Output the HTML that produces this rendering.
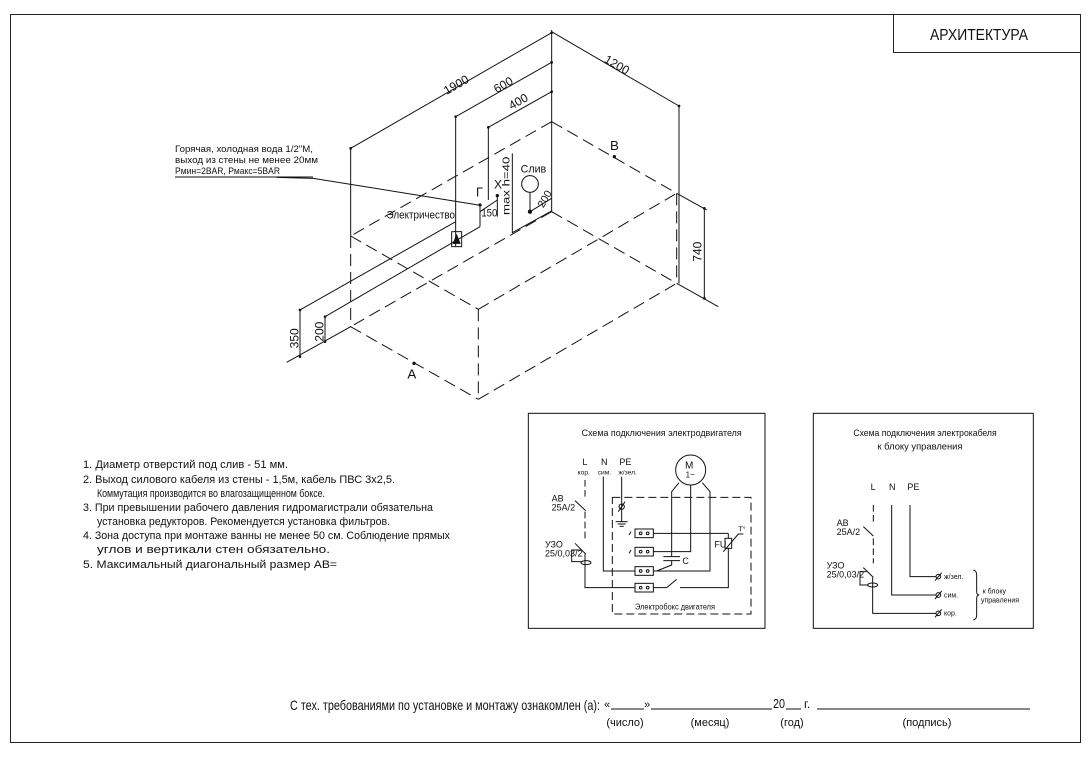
<!DOCTYPE html>
<html><head><meta charset="utf-8"><style>
html,body{margin:0;padding:0;background:#fff;}
svg{display:block;}
text{font-family:"Liberation Sans",sans-serif;fill:#111;}
</style></head><body>
<svg width="1092" height="758" viewBox="0 0 1092 758" xmlns="http://www.w3.org/2000/svg">
<rect x="0" y="0" width="1092" height="758" fill="#fff"/>
<!-- frame -->
<rect x="10.5" y="14.5" width="1070" height="728" fill="none" stroke="#222" stroke-width="1"/>
<rect x="893.5" y="14.5" width="187" height="38" fill="none" stroke="#222" stroke-width="1"/>
<text x="979" y="40" font-size="16" text-anchor="middle" textLength="98" lengthAdjust="spacingAndGlyphs">АРХИТЕКТУРА</text>

<!-- main drawing in zoom coords -->
<g transform="translate(280,30) scale(0.33333)" stroke="#111" stroke-width="3" fill="none">
  <!-- dashed bath -->
  <g stroke-dasharray="36 18">
    <line x1="815" y1="275" x2="212" y2="618"/>
    <line x1="815" y1="275" x2="1190" y2="490"/>
    <line x1="212" y1="618" x2="595" y2="838"/>
    <line x1="595" y1="838" x2="1190" y2="490"/>
    <line x1="595" y1="838" x2="595" y2="1108"/>
    <line x1="212" y1="890" x2="595" y2="1108"/>
    <line x1="595" y1="1108" x2="1190" y2="760"/>
    <line x1="815" y1="545" x2="1190" y2="760"/>
    <line x1="815" y1="545" x2="212" y2="890"/>
    <line x1="212" y1="618" x2="212" y2="890"/>
    <line x1="1190" y1="490" x2="1190" y2="760"/>
  </g>
  <!-- solid extension / dims -->
  <line x1="815" y1="0" x2="815" y2="545"/>
  <line x1="815" y1="5" x2="1197" y2="228"/>
  <line x1="1197" y1="228" x2="1197" y2="760"/>
  <line x1="212" y1="355" x2="212" y2="618"/>
  <line x1="212" y1="355" x2="815" y2="8"/>
  <line x1="527" y1="260" x2="815" y2="97"/>
  <line x1="527" y1="260" x2="527" y2="650"/>
  <line x1="625" y1="292" x2="815" y2="185"/>
  <line x1="625" y1="292" x2="625" y2="510"/>
  <line x1="1273" y1="535" x2="1273" y2="805"/>
  <line x1="1190" y1="490" x2="1280" y2="540"/>
  <line x1="1190" y1="760" x2="1315" y2="830"/>
  <!-- left 350/200 -->
  <line x1="20" y1="997" x2="212" y2="890"/>
  <line x1="60" y1="840" x2="527" y2="575"/>
  <line x1="135" y1="860" x2="600" y2="590"/>
  <line x1="60" y1="840" x2="60" y2="980"/>
  <line x1="135" y1="860" x2="135" y2="935"/>
  <line x1="600" y1="530" x2="600" y2="590"/>
  <line x1="600" y1="545" x2="652" y2="510"/>
  <line x1="652" y1="495" x2="652" y2="560"/>
  <!-- max h line -->
  <line x1="697" y1="370" x2="697" y2="610"/>
  <line x1="697" y1="608" x2="815" y2="543"/>
  <!-- drain -->
  <circle cx="750" cy="462" r="25"/>
  <line x1="750" y1="487" x2="750" y2="545"/>
  <circle cx="750" cy="545" r="5" fill="#111"/>
  <line x1="750" y1="545" x2="815" y2="505"/>
  <!-- leader -->
  <polyline points="-10,442 100,445 595,525"/>
  <line x1="-10" y1="442" x2="-10" y2="442"/>
  <!-- electric box -->
  <rect x="515" y="605" width="30" height="45"/>
  <polygon points="520,640 540,640 530,615" fill="#111"/>
  <!-- dots -->
  <g fill="#111" stroke="none">
    <circle cx="815" cy="8" r="4"/><circle cx="815" cy="97" r="4"/><circle cx="815" cy="185" r="4"/>
    <circle cx="212" cy="355" r="4"/><circle cx="527" cy="260" r="4"/><circle cx="625" cy="292" r="4"/>
    <circle cx="1197" cy="228" r="4"/><circle cx="1273" cy="535" r="4"/><circle cx="1273" cy="805" r="4"/>
    <circle cx="60" cy="840" r="4"/><circle cx="60" cy="980" r="4"/><circle cx="135" cy="860" r="4"/><circle cx="135" cy="935" r="4"/>
    <circle cx="600" cy="525" r="5"/><circle cx="652" cy="497" r="5"/>
    <circle cx="1003" cy="380" r="5"/><circle cx="402" cy="1000" r="5"/>
  </g>
  <g fill="#111" stroke="none" font-size="36">
    <text x="500" y="195" transform="rotate(-30 500 195)">1900</text>
    <text x="650" y="190" transform="rotate(-30 650 190)">600</text>
    <text x="695" y="240" transform="rotate(-30 695 240)">400</text>
    <text x="970" y="95" transform="rotate(30 970 95)">1200</text>
    <text x="1265" y="695" transform="rotate(-90 1265 695)">740</text>
    <text x="55" y="955" transform="rotate(-90 55 955)">350</text>
    <text x="130" y="935" transform="rotate(-90 130 935)">200</text>
    <text x="990" y="360" font-size="40">В</text>
    <text x="382" y="1045" font-size="40">А</text>
    <text x="588" y="500" font-size="38">Г</text>
    <text x="642" y="475" font-size="36">Х</text>
    <text x="722" y="428" font-size="32">Слив</text>
    <text x="320" y="565" font-size="32" textLength="205" lengthAdjust="spacingAndGlyphs">Электричество</text>
    <text x="604" y="560" font-size="32" textLength="48" lengthAdjust="spacingAndGlyphs">150</text>
    <text x="688" y="555" font-size="30" transform="rotate(-90 688 555)" textLength="175" lengthAdjust="spacingAndGlyphs">max h=40</text>
    <text x="790" y="535" font-size="32" transform="rotate(-60 790 535)">200</text>
  </g>
</g>

<!-- leader text -->
<g font-size="9.5">
  <text x="175" y="152" textLength="138" lengthAdjust="spacingAndGlyphs">Горячая, холодная вода 1/2"М,</text>
  <text x="175" y="163" textLength="143" lengthAdjust="spacingAndGlyphs">выход из стены не менее 20мм</text>
  <text x="175" y="174" textLength="105" lengthAdjust="spacingAndGlyphs">Рмин=2BAR, Рмакс=5BAR</text>
</g>
<line x1="175" y1="177" x2="313" y2="177" stroke="#111" stroke-width="1"/>

<!-- schematic 1 -->
<g transform="translate(525,410) scale(0.33333)" stroke="#111" stroke-width="3" fill="none">
  <rect x="10" y="10" width="710" height="645"/>
  <rect x="262" y="262" width="416" height="350" stroke-dasharray="24 12"/>
  <circle cx="497" cy="180" r="45"/>
  <line x1="180" y1="210" x2="180" y2="265" stroke-dasharray="20 10"/>
  <line x1="150" y1="272" x2="182" y2="302"/>
  <line x1="180" y1="305" x2="180" y2="395" stroke-dasharray="20 10"/>
  <line x1="150" y1="400" x2="182" y2="432"/>
  <polyline points="168,420 140,420 140,455 170,455"/>
  <ellipse cx="183" cy="458" rx="15" ry="6"/>
  <polyline points="180,432 180,533 330,533"/>
  <polyline points="235,200 235,483 330,483"/>
  <line x1="290" y1="200" x2="290" y2="335"/>
  <line x1="272" y1="335" x2="308" y2="335"/><line x1="278" y1="342" x2="302" y2="342"/><line x1="284" y1="349" x2="296" y2="349"/>
  <circle cx="290" cy="290" r="8"/><line x1="280" y1="305" x2="300" y2="275"/>
  <rect x="330" y="357" width="55" height="26"/><rect x="330" y="412" width="55" height="26"/>
  <rect x="330" y="470" width="55" height="26"/><rect x="330" y="520" width="55" height="26"/>
  <g><circle cx="347" cy="370" r="4"/><circle cx="368" cy="370" r="4"/><circle cx="347" cy="425" r="4"/><circle cx="368" cy="425" r="4"/>
  <circle cx="347" cy="483" r="4"/><circle cx="368" cy="483" r="4"/><circle cx="347" cy="533" r="4"/><circle cx="368" cy="533" r="4"/></g>
  <line x1="312" y1="375" x2="318" y2="365"/><line x1="312" y1="430" x2="318" y2="420"/>
  <polyline points="462,218 440,245 440,440"/>
  <polyline points="532,218 555,245 555,483 385,483"/>
  <polyline points="497,225 497,425 385,425"/>
  <line x1="385" y1="370" x2="610" y2="370"/>
  <line x1="415" y1="440" x2="465" y2="440"/><line x1="415" y1="452" x2="465" y2="452"/>
  <polyline points="440,452 440,465 395,483"/>
  <polyline points="385,533 425,533 455,508"/>
  <polyline points="465,533 610,533 610,415"/>
  <line x1="610" y1="370" x2="610" y2="385"/>
  <rect x="600" y="385" width="20" height="30"/>
  <polyline points="595,425 640,372 655,372"/>
  <g fill="#111" stroke="none" font-size="27">
    <text x="410" y="78" text-anchor="middle" textLength="480" lengthAdjust="spacingAndGlyphs">Схема подключения электродвигателя</text>
    <text x="172" y="165">L</text><text x="228" y="165">N</text><text x="283" y="165">PE</text>
    <text x="158" y="193" font-size="20">кор.</text><text x="218" y="193" font-size="20">сим.</text><text x="280" y="193" font-size="20">ж/зел.</text>
    <text x="480" y="175" font-size="30">М</text><text x="482" y="203" font-size="24">1~</text>
    <text x="80" y="275">АВ</text><text x="80" y="302">25А/2</text>
    <text x="60" y="413">УЗО</text><text x="60" y="440">25/0,03/2</text>
    <text x="472" y="462">С</text><text x="568" y="412">FU</text><text x="640" y="365" font-size="22">T°</text>
    <text x="450" y="598" text-anchor="middle" font-size="24" textLength="240" lengthAdjust="spacingAndGlyphs">Электробокс двигателя</text>
  </g>
</g>

<!-- schematic 2 -->
<g transform="translate(810,410) scale(0.33333)" stroke="#111" stroke-width="3" fill="none">
  <rect x="10" y="10" width="660" height="645"/>
  <line x1="190" y1="285" x2="190" y2="340" stroke-dasharray="20 10"/>
  <line x1="160" y1="350" x2="190" y2="378"/>
  <line x1="190" y1="385" x2="190" y2="460" stroke-dasharray="20 10"/>
  <line x1="160" y1="473" x2="190" y2="502"/>
  <polyline points="170,485 150,485 150,525 175,525"/>
  <ellipse cx="188" cy="525" rx="15" ry="6"/>
  <polyline points="188,502 188,610 378,610"/>
  <polyline points="245,285 245,555 378,555"/>
  <polyline points="300,285 300,500 378,500"/>
  <circle cx="385" cy="500" r="7"/><circle cx="385" cy="555" r="7"/><circle cx="385" cy="610" r="7"/>
  <line x1="375" y1="512" x2="395" y2="488"/><line x1="375" y1="567" x2="395" y2="543"/><line x1="375" y1="622" x2="395" y2="598"/>
  <path d="M490,480 Q500,482 500,495 L500,545 Q500,555 508,555 Q500,555 500,565 L500,615 Q500,628 490,630"/>
  <g fill="#111" stroke="none" font-size="27">
    <text x="345" y="78" text-anchor="middle" textLength="430" lengthAdjust="spacingAndGlyphs">Схема подключения электрокабеля</text>
    <text x="330" y="118" text-anchor="middle" textLength="255" lengthAdjust="spacingAndGlyphs">к блоку управления</text>
    <text x="182" y="240">L</text><text x="237" y="240">N</text><text x="292" y="240">PE</text>
    <text x="80" y="348">АВ</text><text x="80" y="375">25А/2</text>
    <text x="50" y="475">УЗО</text><text x="50" y="502">25/0,03/2</text>
    <text x="402" y="507" font-size="21">ж/зел.</text><text x="402" y="562" font-size="21">сим.</text><text x="402" y="617" font-size="21">кор.</text>
    <text x="518" y="550" font-size="21">к блоку</text><text x="513" y="578" font-size="21">управления</text>
  </g>
</g>

<!-- notes -->
<g font-size="11">
  <text x="83" y="468" textLength="205" lengthAdjust="spacingAndGlyphs">1. Диаметр отверстий под слив - 51 мм.</text>
  <text x="83" y="483" textLength="312" lengthAdjust="spacingAndGlyphs">2. Выход силового кабеля из стены - 1,5м, кабель ПВС 3х2,5.</text>
  <text x="97" y="497" textLength="228" lengthAdjust="spacingAndGlyphs">Коммутация производится во влагозащищенном боксе.</text>
  <text x="83" y="511" textLength="350" lengthAdjust="spacingAndGlyphs">3. При превышении рабочего давления гидромагистрали обязательна</text>
  <text x="97" y="525" textLength="293" lengthAdjust="spacingAndGlyphs">установка редукторов. Рекомендуется установка фильтров.</text>
  <text x="83" y="539" textLength="367" lengthAdjust="spacingAndGlyphs">4. Зона доступа при монтаже ванны не менее 50 см. Соблюдение прямых</text>
  <text x="97" y="553" textLength="233" lengthAdjust="spacingAndGlyphs">углов и вертикали стен обязательно.</text>
  <text x="83" y="568" textLength="254" lengthAdjust="spacingAndGlyphs">5. Максимальный диагональный размер АВ=</text>
</g>

<!-- signature line -->
<text x="290" y="710" font-size="14" textLength="310" lengthAdjust="spacingAndGlyphs">С тех. требованиями по установке и монтажу ознакомлен (а):</text>
<text x="604" y="708" font-size="11">«</text>
<text x="644" y="708" font-size="11">»</text>
<line x1="611" y1="709" x2="644" y2="709" stroke="#111"/>
<line x1="651" y1="709" x2="772" y2="709" stroke="#111"/>
<text x="773" y="708" font-size="13" textLength="12" lengthAdjust="spacingAndGlyphs">20</text>
<line x1="786" y1="709" x2="801" y2="709" stroke="#111"/>
<text x="804" y="708" font-size="12">г.</text>
<line x1="817" y1="709" x2="1030" y2="709" stroke="#111"/>
<g font-size="11" text-anchor="middle">
  <text x="625" y="726">(число)</text>
  <text x="710" y="726">(месяц)</text>
  <text x="792" y="726">(год)</text>
  <text x="927" y="726">(подпись)</text>
</g>
</svg>
</body></html>
